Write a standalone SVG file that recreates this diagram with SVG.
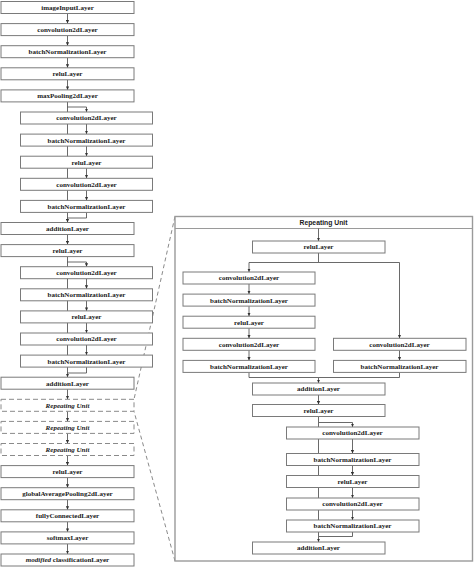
<svg xmlns="http://www.w3.org/2000/svg" width="474" height="569" viewBox="0 0 474 569">
<defs>
<marker id="ah" markerUnits="userSpaceOnUse" markerWidth="4" markerHeight="4" refX="3.5" refY="2" orient="auto"><path d="M0,0.4 L3.5,2 L0,3.6 z" fill="#333"/></marker>
<style>
.b{fill:#fff;stroke:#7a7a7a;stroke-width:1}
.d{fill:#fff;stroke:#8a8a8a;stroke-width:1;stroke-dasharray:5,3}
.t{font-family:"Liberation Serif","Times New Roman",serif;font-weight:bold;font-size:7px;fill:#1a1a1a;text-anchor:middle}
.i{font-style:italic}
.c{fill:none;stroke:#444;stroke-width:0.8}
.a{marker-end:url(#ah)}
.z{fill:none;stroke:#8a8a8a;stroke-width:1;stroke-dasharray:4,3}
.u{fill:#fff;stroke:#9a9a9a;stroke-width:1.4}
.h{font-family:"Liberation Sans",Arial,sans-serif;font-weight:bold;font-size:6.8px;fill:#1a1a1a;text-anchor:middle}
</style>
</defs>
<g id="zoom-lines">
<path class="z" d="M175,216.5 L134,399.3"/>
<path class="z" d="M175,561 L134,411.3"/>
</g>
<g id="connectors">
<path class="c a" d="M67.5,13.5 V23.6"/>
<path class="c a" d="M67.5,35.6 V45.7"/>
<path class="c a" d="M67.5,57.7 V67.8"/>
<path class="c a" d="M67.5,79.8 V89.9"/>
<path class="c a" d="M67.5,101.9 V107 H86.5 V112"/>
<path class="c" d="M67.5,107 V218"/>
<path class="c a" d="M86.5,124 V134.1"/>
<path class="c a" d="M86.5,146.1 V156.2"/>
<path class="c a" d="M86.5,168.2 V178.3"/>
<path class="c a" d="M86.5,190.3 V200.4"/>
<path class="c a" d="M86.5,212.4 V218 H67.5 V222.5"/>
<path class="c a" d="M67.5,234.5 V244.6"/>
<path class="c a" d="M67.5,256.6 V262 H86.5 V266.7"/>
<path class="c" d="M67.5,262 V373"/>
<path class="c a" d="M86.5,278.7 V288.8"/>
<path class="c a" d="M86.5,300.8 V310.9"/>
<path class="c a" d="M86.5,322.9 V333"/>
<path class="c a" d="M86.5,345 V355.1"/>
<path class="c a" d="M86.5,367.1 V373 H67.5 V377.2"/>
<path class="c a" d="M67.5,389.2 V399.3"/>
<path class="c a" d="M67.5,411.3 V421.4"/>
<path class="c a" d="M67.5,433.4 V443.5"/>
<path class="c a" d="M67.5,455.5 V465.6"/>
<path class="c a" d="M67.5,477.6 V487.7"/>
<path class="c a" d="M67.5,499.7 V509.8"/>
<path class="c a" d="M67.5,521.8 V531.9"/>
<path class="c a" d="M67.5,543.9 V554"/>
</g>
<g id="n0"><rect class="b" x="1" y="1.5" width="133" height="12"/><text class="t" x="67.5" y="9.9">imageInputLayer</text></g>
<g id="n1"><rect class="b" x="1" y="23.6" width="133" height="12"/><text class="t" x="67.5" y="32">convolution2dLayer</text></g>
<g id="n2"><rect class="b" x="1" y="45.7" width="133" height="12"/><text class="t" x="67.5" y="54.1">batchNormalizationLayer</text></g>
<g id="n3"><rect class="b" x="1" y="67.8" width="133" height="12"/><text class="t" x="67.5" y="76.2">reluLayer</text></g>
<g id="n4"><rect class="b" x="1" y="89.9" width="133" height="12"/><text class="t" x="67.5" y="98.3">maxPooling2dLayer</text></g>
<g id="n5"><rect class="b" x="20.5" y="112" width="132" height="12"/><text class="t" x="86.5" y="120.4">convolution2dLayer</text></g>
<g id="n6"><rect class="b" x="20.5" y="134.1" width="132" height="12"/><text class="t" x="86.5" y="142.5">batchNormalizationLayer</text></g>
<g id="n7"><rect class="b" x="20.5" y="156.2" width="132" height="12"/><text class="t" x="86.5" y="164.6">reluLayer</text></g>
<g id="n8"><rect class="b" x="20.5" y="178.3" width="132" height="12"/><text class="t" x="86.5" y="186.7">convolution2dLayer</text></g>
<g id="n9"><rect class="b" x="20.5" y="200.4" width="132" height="12"/><text class="t" x="86.5" y="208.8">batchNormalizationLayer</text></g>
<g id="n10"><rect class="b" x="1" y="222.5" width="133" height="12"/><text class="t" x="67.5" y="230.9">additionLayer</text></g>
<g id="n11"><rect class="b" x="1" y="244.6" width="133" height="12"/><text class="t" x="67.5" y="253">reluLayer</text></g>
<g id="n12"><rect class="b" x="20.5" y="266.7" width="132" height="12"/><text class="t" x="86.5" y="275.1">convolution2dLayer</text></g>
<g id="n13"><rect class="b" x="20.5" y="288.8" width="132" height="12"/><text class="t" x="86.5" y="297.2">batchNormalizationLayer</text></g>
<g id="n14"><rect class="b" x="20.5" y="310.9" width="132" height="12"/><text class="t" x="86.5" y="319.3">reluLayer</text></g>
<g id="n15"><rect class="b" x="20.5" y="333" width="132" height="12"/><text class="t" x="86.5" y="341.4">convolution2dLayer</text></g>
<g id="n16"><rect class="b" x="20.5" y="355.1" width="132" height="12"/><text class="t" x="86.5" y="363.5">batchNormalizationLayer</text></g>
<g id="n17"><rect class="b" x="1" y="377.2" width="133" height="12"/><text class="t" x="67.5" y="385.6">additionLayer</text></g>
<g id="n18"><rect class="d" x="1" y="399.3" width="133" height="12"/><text class="t i" x="67.5" y="407.7">Repeating Unit</text></g>
<g id="n19"><rect class="d" x="1" y="421.4" width="133" height="12"/><text class="t i" x="67.5" y="429.8">Repeating Unit</text></g>
<g id="n20"><rect class="d" x="1" y="443.5" width="133" height="12"/><text class="t i" x="67.5" y="451.9">Repeating Unit</text></g>
<g id="n21"><rect class="b" x="1" y="465.6" width="133" height="12"/><text class="t" x="67.5" y="474">reluLayer</text></g>
<g id="n22"><rect class="b" x="1" y="487.7" width="133" height="12"/><text class="t" x="67.5" y="496.1">globalAveragePooling2dLayer</text></g>
<g id="n23"><rect class="b" x="1" y="509.8" width="133" height="12"/><text class="t" x="67.5" y="518.2">fullyConnectedLayer</text></g>
<g id="n24"><rect class="b" x="1" y="531.9" width="133" height="12"/><text class="t" x="67.5" y="540.3">softmaxLayer</text></g>
<g id="n25"><rect class="b" x="1" y="554" width="133" height="12"/><text class="t" x="67.5" y="562.4"><tspan font-style="italic">modified</tspan> classificationLayer</text></g>
<g id="unit">
<rect class="u" x="175" y="216.5" width="297.5" height="344.5"/>
<line x1="175" y1="228.5" x2="472.5" y2="228.5" stroke="#9a9a9a" stroke-width="1"/>
<text class="h" x="323.5" y="225">Repeating Unit</text>
</g>
<g id="unit-connectors">
<path class="c a" d="M318.5,228.5 V241"/>
<path class="c a" d="M318.5,253 V262.5 H249 V272"/>
<path class="c a" d="M318.5,262.5 H399.5 V338.3"/>
<path class="c a" d="M249,284 V294.1"/>
<path class="c a" d="M249,306.1 V316.2"/>
<path class="c a" d="M249,328.2 V338.3"/>
<path class="c a" d="M249,350.3 V360.4"/>
<path class="c a" d="M399.5,350.3 V360.4"/>
<path class="c a" d="M249,372.4 V377.5 H318.5 V383"/>
<path class="c" d="M399.5,372.4 V377.5 H318.5"/>
<path class="c a" d="M318.5,395 V404.5"/>
<path class="c a" d="M318.5,416.5 V422.5 H352.5 V427"/>
<path class="c" d="M318.5,422.5 V536.5"/>
<path class="c a" d="M352.5,439 V453.5"/>
<path class="c a" d="M352.5,465.5 V475.5"/>
<path class="c a" d="M352.5,487.5 V498"/>
<path class="c a" d="M352.5,510 V520"/>
<path class="c a" d="M352.5,532 V536.5 H318.5 V542"/>
</g>
<g id="u-relu1"><rect class="b" x="252.5" y="241" width="132.5" height="12"/><text class="t" x="318.5" y="249.4">reluLayer</text></g>
<g id="u-conv1"><rect class="b" x="183" y="272" width="132" height="12"/><text class="t" x="249" y="280.4">convolution2dLayer</text></g>
<g id="u-bn1"><rect class="b" x="183" y="294.1" width="132" height="12"/><text class="t" x="249" y="302.5">batchNormalizationLayer</text></g>
<g id="u-relu2"><rect class="b" x="183" y="316.2" width="132" height="12"/><text class="t" x="249" y="324.6">reluLayer</text></g>
<g id="u-conv2"><rect class="b" x="183" y="338.3" width="132" height="12"/><text class="t" x="249" y="346.7">convolution2dLayer</text></g>
<g id="u-bn2"><rect class="b" x="183" y="360.4" width="132" height="12"/><text class="t" x="249" y="368.8">batchNormalizationLayer</text></g>
<g id="u-conv-r"><rect class="b" x="333.5" y="338.3" width="132.5" height="12"/><text class="t" x="399.5" y="346.7">convolution2dLayer</text></g>
<g id="u-bn-r"><rect class="b" x="333.5" y="360.4" width="132.5" height="12"/><text class="t" x="399.5" y="368.8">batchNormalizationLayer</text></g>
<g id="u-add1"><rect class="b" x="252.5" y="383" width="132.5" height="12"/><text class="t" x="318.5" y="391.4">additionLayer</text></g>
<g id="u-relu3"><rect class="b" x="252.5" y="404.5" width="132.5" height="12"/><text class="t" x="318.5" y="412.9">reluLayer</text></g>
<g id="u-conv3"><rect class="b" x="286.5" y="427" width="132.5" height="12"/><text class="t" x="352.5" y="435.4">convolution2dLayer</text></g>
<g id="u-bn3"><rect class="b" x="286.5" y="453.5" width="132.5" height="12"/><text class="t" x="352.5" y="461.9">batchNormalizationLayer</text></g>
<g id="u-relu4"><rect class="b" x="286.5" y="475.5" width="132.5" height="12"/><text class="t" x="352.5" y="483.9">reluLayer</text></g>
<g id="u-conv4"><rect class="b" x="286.5" y="498" width="132.5" height="12"/><text class="t" x="352.5" y="506.4">convolution2dLayer</text></g>
<g id="u-bn4"><rect class="b" x="286.5" y="520" width="132.5" height="12"/><text class="t" x="352.5" y="528.4">batchNormalizationLayer</text></g>
<g id="u-add2"><rect class="b" x="252.5" y="542" width="132.5" height="12"/><text class="t" x="318.5" y="550.4">additionLayer</text></g>
</svg>
